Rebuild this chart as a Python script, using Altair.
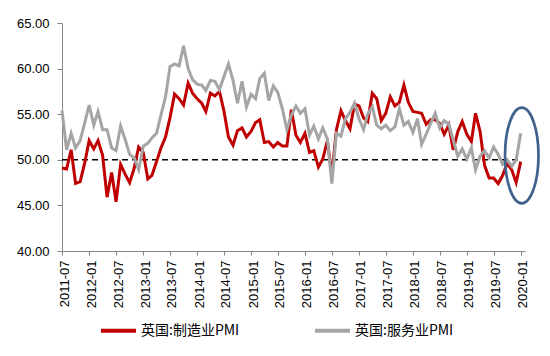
import altair as alt
import pandas as pd

# Monthly data 2011-07 .. 2020-01
start_year, start_month = 2011, 7

mfg = [
    49.1, 49.0, 51.1, 47.4, 47.6, 49.6,
    52.1, 51.2, 52.1, 50.5, 45.9, 48.6, 45.4, 49.5, 48.4, 47.5, 49.1, 51.4,
    50.8, 47.9, 48.3, 49.8, 51.3, 52.5, 54.6, 57.2, 56.7, 56.0, 58.4, 57.3,
    56.7, 56.2, 55.3, 57.3, 57.0, 57.5, 55.4, 52.5, 51.6, 53.2, 53.5, 52.5,
    53.1, 54.1, 54.4, 51.9, 52.0, 51.4, 51.9, 51.5, 51.5, 55.5, 52.7, 51.9,
    52.9, 50.8, 51.0, 49.2, 50.1, 52.1, 48.3, 53.3, 55.4, 54.3, 53.4, 56.1,
    55.9, 54.6, 54.2, 57.3, 56.7, 54.3, 55.1, 56.9, 55.9, 56.3, 58.2, 56.3,
    55.3, 55.2, 55.1, 53.9, 54.4, 54.4, 54.0, 52.8, 53.8, 51.1, 53.1, 54.2,
    52.8, 52.0, 55.1, 53.1, 49.4, 48.0, 48.0, 47.4, 48.3, 49.6, 48.9, 47.5,
    49.8,
]

svc = [
    55.4, 51.1, 52.9, 51.3, 52.1, 54.0,
    56.0, 53.8, 55.3, 53.3, 53.3, 51.3, 51.0, 53.7, 52.2, 50.6, 50.2, 48.9,
    51.5, 51.8, 52.4, 52.9, 54.9, 56.9, 60.2, 60.5, 60.3, 62.5, 60.0, 58.8,
    58.3, 58.2, 57.6, 58.7, 58.6, 57.7, 59.1, 60.5, 58.7, 56.2, 58.6, 55.8,
    57.2, 56.7, 58.9, 59.5, 56.5, 58.1, 57.4, 55.6, 53.3, 54.9, 55.9, 55.1,
    55.6, 52.7, 53.7, 52.3, 53.5, 52.3, 47.4, 52.9, 52.6, 54.5, 55.2, 56.2,
    54.5, 53.3, 55.0, 55.8, 53.8, 53.4, 53.8, 53.2, 53.6, 55.6, 53.8, 54.2,
    53.0, 54.5, 51.7, 52.8, 54.0, 55.1, 53.5, 54.3, 53.9, 52.2, 50.4, 51.2,
    50.1, 51.3, 48.9, 50.4, 51.0, 50.2, 51.4, 50.6, 49.5, 50.0, 49.3, 50.0,
    52.9,
]

series_names = ["英国:制造业PMI", "英国:服务业PMI"]
series_colors = ["#c00000", "#a5a5a5"]
y_ticks = [40, 45, 50, 55, 60, 65]
ref_level = 50


def month_str(i):
    y = start_year + (start_month - 1 + i) // 12
    m = (start_month - 1 + i) % 12 + 1
    return f"{y:04d}-{m:02d}-01T00:00:00"


dates = [month_str(i) for i in range(len(mfg))]
rows = []
for name, vals in zip(series_names, [mfg, svc]):
    for d, v in zip(dates, vals):
        rows.append({"date": d, "value": v, "series": name})
df = pd.DataFrame(rows)

x_domain = [alt.DateTime(year=2011, month=7, date=1),
            alt.DateTime(year=2020, month=1, date=30)]

axis_color = "#868686"
xenc = alt.X(
    "date:T",
    scale=alt.Scale(domain=x_domain),
    axis=alt.Axis(tickCount=alt.TimeIntervalStep(interval="month", step=6),
                  format="%Y-%m", labelAngle=270,
                  labelFontSize=13, labelFont="Liberation Sans",
                  labelColor="#000000", labelPadding=5, labelOffset=2,
                  grid=False, domainColor=axis_color, tickColor=axis_color,
                  tickSize=4, title=None, labelOverlap=False,
                  labelSeparation=0, labelFlush=False),
)
yenc = alt.Y(
    "value:Q",
    scale=alt.Scale(domain=[40, 65], nice=False, zero=False),
    axis=alt.Axis(values=y_ticks, format=".2f", labelFontSize=13,
                  labelFont="Liberation Sans", labelColor="#000000",
                  labelPadding=8, grid=False, domainColor=axis_color,
                  tickColor=axis_color, tickSize=5, title=None),
)
color = alt.Color(
    "series:N",
    scale=alt.Scale(domain=series_names, range=series_colors),
    legend=alt.Legend(orient="none", legendX=37, legendY=288,
                      direction="horizontal", title=None,
                      symbolType="stroke", symbolSize=1225,
                      symbolStrokeWidth=4, labelFontSize=14,
                      labelFont="Noto Sans CJK SC", labelColor="#000000",
                      columnPadding=67, labelOffset=3, padding=0,
                      labelLimit=300),
)

base = alt.Chart(df)
line_mfg = base.transform_filter(alt.datum.series == series_names[0]).mark_line(
    strokeWidth=3).encode(x=xenc, y=yenc, color=color)
line_svc = base.transform_filter(alt.datum.series == series_names[1]).mark_line(
    strokeWidth=3).encode(x=xenc, y=yenc, color=color)

ref_df = pd.DataFrame({"x1": [dates[0]], "x2": [dates[-1]], "y": [ref_level]})
ref = alt.Chart(ref_df).mark_rule(color="#000000", strokeWidth=1.6,
                                  strokeDash=[6, 4]).encode(
    x="x1:T", x2="x2:T", y="y:Q")

ellipse_path = ("M 0 -1 C 0.1933 -1 0.35 -0.5523 0.35 0 "
                "C 0.35 0.5523 0.1933 1 0 1 "
                "C -0.1933 1 -0.35 0.5523 -0.35 0 "
                "C -0.35 -0.5523 -0.1933 -1 0 -1 Z")
ell_df = pd.DataFrame({"x": ["2020-01-08T00:00:00"], "y": [50.47]})
ellipse = alt.Chart(ell_df).mark_point(
    shape=ellipse_path, filled=False, stroke="#41618f", strokeWidth=2.7,
    size=9139, opacity=1).encode(x="x:T", y="y:Q")

chart = alt.layer(ref, line_mfg, line_svc, ellipse).properties(
    width=463, height=228,
    padding={"left": 54, "top": 15, "right": 17, "bottom": 97},
    autosize=alt.AutoSizeParams(type="none"),
    background="white",
).configure_view(stroke=None)

chart.save("out.html", embed_options={"renderer": "svg", "actions": False})
